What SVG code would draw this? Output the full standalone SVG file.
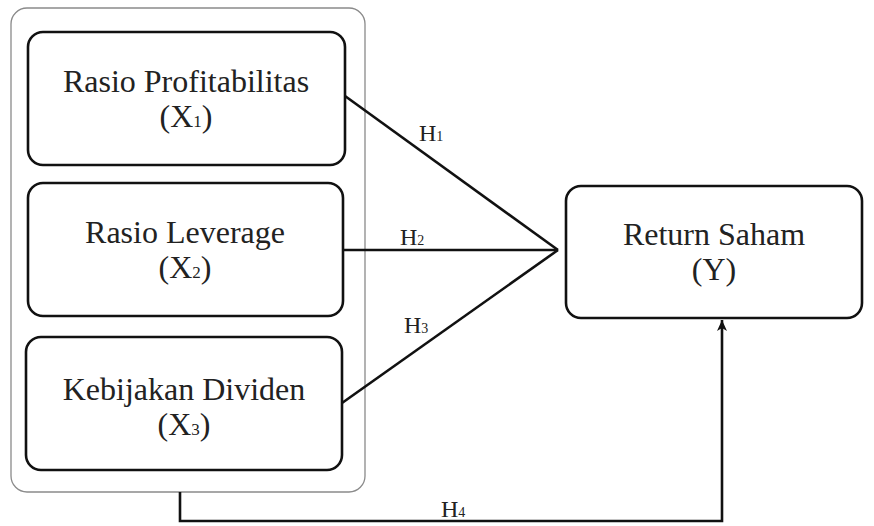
<svg xmlns="http://www.w3.org/2000/svg" width="874" height="526" viewBox="0 0 874 526">
<defs>
<marker id="arr" viewBox="0 0 12 12" refX="11" refY="6" markerWidth="12" markerHeight="12" markerUnits="userSpaceOnUse" orient="auto">
<path d="M0,1 L11,6 L0,11 L3,6 Z" fill="#111"/>
</marker>
</defs>
<style>
.outer{fill:#fff;stroke:#8a8a8a;stroke-width:1.3}
.box{fill:#fff;stroke:#111;stroke-width:2.6}
.lbl{font-family:"Liberation Serif","Times New Roman",serif;font-size:32px;fill:#222;text-anchor:middle}
.sub{font-size:17px}
.h{font-family:"Liberation Serif","Times New Roman",serif;font-size:24px;fill:#222}
.hs{font-size:14px}
.con{fill:none;stroke:#111;stroke-width:2.6}
</style>
<rect width="874" height="526" fill="#fff"/>
<g id="group">
<rect class="outer" x="11" y="8" width="354" height="484" rx="16"/>
</g>
<g id="x1">
<rect class="box" x="28" y="32" width="317" height="133" rx="15"/>
<text class="lbl" x="186" y="92">Rasio Profitabilitas</text>
<text class="lbl" x="186" y="127">(X<tspan class="sub">1</tspan>)</text>
</g>
<g id="x2">
<rect class="box" x="28" y="183" width="315" height="133" rx="15"/>
<text class="lbl" x="185" y="243">Rasio Leverage</text>
<text class="lbl" x="185" y="278">(X<tspan class="sub">2</tspan>)</text>
</g>
<g id="x3">
<rect class="box" x="26" y="337" width="316" height="133" rx="15"/>
<text class="lbl" x="184" y="400">Kebijakan Dividen</text>
<text class="lbl" x="184" y="435">(X<tspan class="sub">3</tspan>)</text>
</g>
<g id="y">
<rect class="box" x="566" y="186" width="296" height="132" rx="15"/>
<text class="lbl" x="714" y="245">Return Saham</text>
<text class="lbl" x="714" y="280">(Y)</text>
</g>
<g id="connectors">
<path class="con" d="M345,96 L558,250"/>
<path class="con" d="M343,250 L558,250"/>
<path class="con" d="M342,403 L558,250"/>
<path class="con" d="M180,492 L180,521 L722,521 L722,320" marker-end="url(#arr)"/>
<text class="h" x="419" y="141">H<tspan class="hs">1</tspan></text>
<text class="h" x="400" y="245">H<tspan class="hs">2</tspan></text>
<text class="h" x="404" y="333">H<tspan class="hs">3</tspan></text>
<text class="h" x="441" y="517">H<tspan class="hs">4</tspan></text>
</g>
</svg>
